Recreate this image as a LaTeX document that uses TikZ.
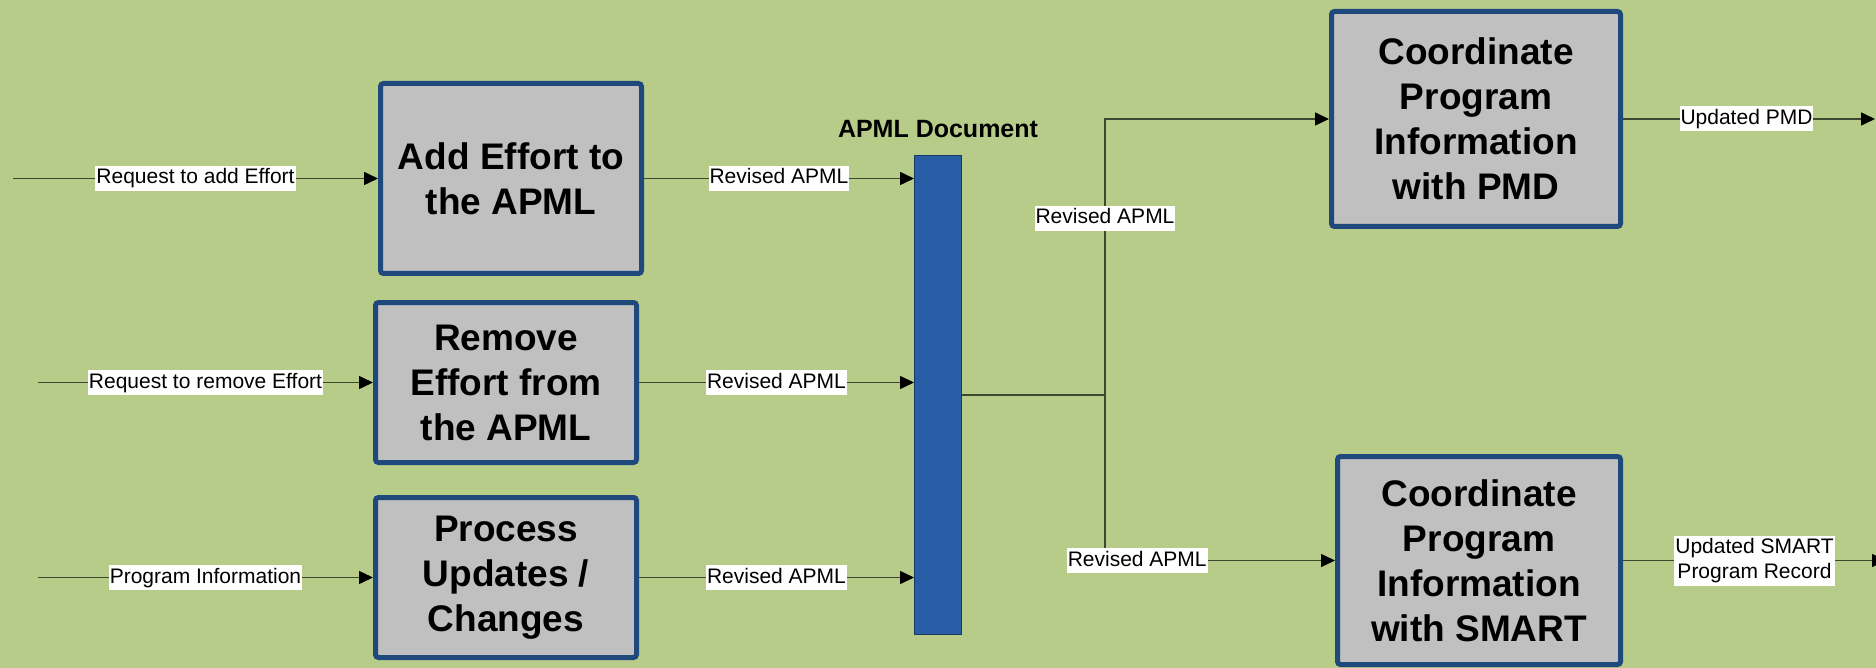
\documentclass[tikz,border=0pt]{standalone}
\usepackage{fontspec}
\setmainfont{Liberation Sans}
\usetikzlibrary{arrows.meta,positioning}
\definecolor{apmlbg}{RGB}{184,204,137}
\definecolor{apmlgray}{RGB}{192,192,192}
\definecolor{apmlnavy}{RGB}{31,73,125}
\definecolor{apmlblue}{RGB}{41,94,166}
\definecolor{apmlline}{RGB}{62,72,48}

\begin{document}
\begin{tikzpicture}[x=1pt,y=-1pt,>={Triangle[length=14pt,width=13pt,color=black]},
    procbox/.style={draw=apmlnavy,line width=5pt,rounded corners=3pt,fill=apmlgray,
      align=center,inner sep=0pt,font=\fontsize{37}{45}\selectfont\bfseries},
    lbl/.style={fill=white,inner xsep=1pt,inner ysep=2pt,text height=16pt,text depth=5pt,
      align=center,font=\fontsize{21}{25}\selectfont},
    flow/.style={draw=apmlline,line width=1.5pt}]
    % background
    \fill[apmlbg] (0,0) rectangle (1876,668);
    \useasboundingbox (0,0) rectangle (1876,668);
    % process boxes
    \node[procbox,minimum width=261pt,minimum height=190pt] (add) at (511,178.5) {Add Effort to\\the APML};
    \node[procbox,minimum width=261pt,minimum height=160pt] (remove) at (506,382.5) {Remove\\Effort from\\the APML};
    \node[procbox,minimum width=261pt,minimum height=160pt] (process) at (506,577.5) {Process\\Updates /\\Changes};
    \node[procbox,minimum width=289pt,minimum height=215pt] (pmd) at (1476,119) {Coordinate\\Program\\Information\\with PMD};
    \node[procbox,minimum width=283pt,minimum height=208pt] (smart) at (1479,560.5) {Coordinate\\Program\\Information\\with SMART};
    % document bar
    \node[draw=apmlnavy!80!black,line width=1pt,fill=apmlblue,minimum width=47pt,minimum height=479pt,inner sep=0pt] (bar) at (938,395) {};
    \node[font=\fontsize{25}{30}\selectfont\bfseries,above=14pt of bar] (doc) {APML Document};
    % free ends
    \coordinate (in1) at (13,178.5);
    \coordinate (in2) at (38,382.5);
    \coordinate (in3) at (38,577.5);
    \coordinate (split) at (1105,395);
    \coordinate (out1) at (1875,119);
    \coordinate (out2) at (1886,560.5);
    % inputs
    \draw[flow,->] (in1) -- node[lbl] {Request to add Effort} (add);
    \draw[flow,->] (in2) -- node[lbl] {Request to remove Effort} (remove);
    \draw[flow,->] (in3) -- node[lbl] {Program Information} (process);
    % into the document
    \draw[flow,->] (add.east) -- node[lbl] {Revised APML} (add.east -| bar.west);
    \draw[flow,->] (remove.east) -- node[lbl] {Revised APML} (remove.east -| bar.west);
    \draw[flow,->] (process.east) -- node[lbl] {Revised APML} (process.east -| bar.west);
    % out of the document
    \draw[flow] (bar.east) -- (split);
    \draw[flow,->] (split) |- node[lbl,pos=0.32] {Revised APML} (pmd.west);
    \draw[flow,->] (split) |- node[lbl,pos=0.57] {Revised APML} (smart.west);
    % outputs
    \draw[flow,->] (pmd.east) -- node[lbl,pos=0.49] {Updated PMD} (out1);
    \draw[flow,->] (smart.east) -- node[lbl,text height=41pt] {Updated SMART\\Program Record} (out2);
  \end{tikzpicture}
\end{document}
